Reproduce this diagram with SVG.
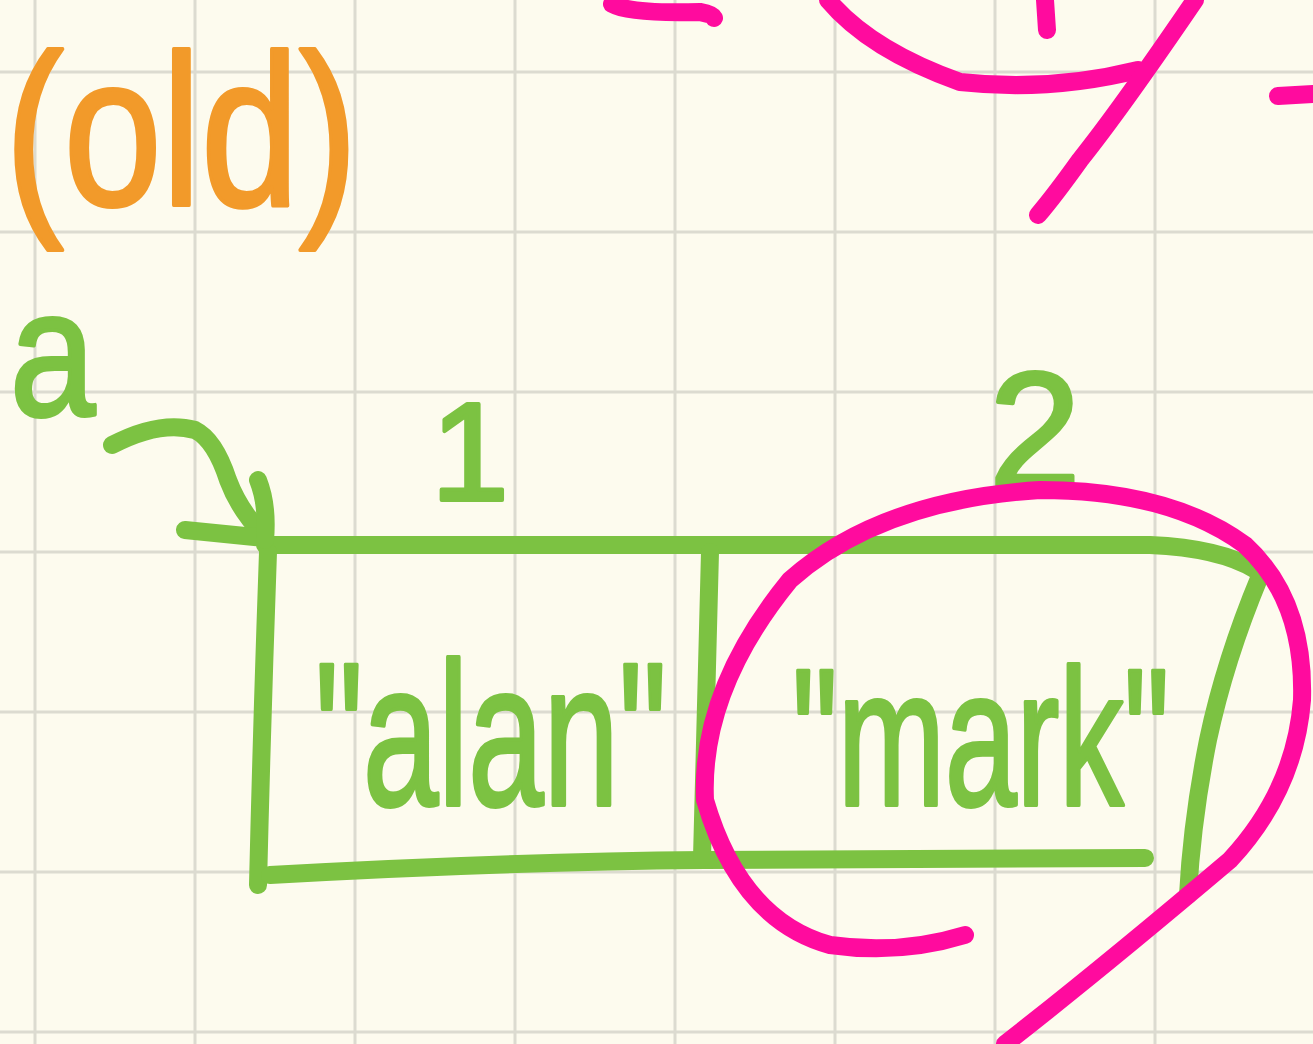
<svg xmlns="http://www.w3.org/2000/svg" width="1313" height="1044" viewBox="0 0 1313 1044">
<style>
.grid line{stroke:#dcdbd0;stroke-width:3}
.ink{fill:none;stroke-width:18;stroke-linecap:round;stroke-linejoin:round}
.g{stroke:#7cc242}
.m{stroke:#ff0b9e}
.t{font-family:"Liberation Sans",Arial,sans-serif;stroke-width:4;stroke-linejoin:round}
.tg{fill:#7cc242;stroke:#7cc242}
.to{fill:#f29a2a;stroke:#f29a2a}
</style>
<rect width="1313" height="1044" fill="#fdfbee"/>
<g class="grid">
<line x1="35" y1="0" x2="35" y2="1044"/><line x1="195" y1="0" x2="195" y2="1044"/><line x1="355" y1="0" x2="355" y2="1044"/><line x1="515" y1="0" x2="515" y2="1044"/><line x1="675" y1="0" x2="675" y2="1044"/><line x1="835" y1="0" x2="835" y2="1044"/><line x1="995" y1="0" x2="995" y2="1044"/><line x1="1155" y1="0" x2="1155" y2="1044"/>
<line x1="0" y1="72" x2="1313" y2="72"/><line x1="0" y1="232" x2="1313" y2="232"/><line x1="0" y1="392" x2="1313" y2="392"/><line x1="0" y1="552" x2="1313" y2="552"/><line x1="0" y1="712" x2="1313" y2="712"/><line x1="0" y1="872" x2="1313" y2="872"/><line x1="0" y1="1032" x2="1313" y2="1032"/>
</g>
<g id="top-fragments">
<path class="ink m" d="M612 4 Q630 14 700 12 Q712 14 714 18"/>
<path class="ink m" d="M828 0 Q870 50 960 82 Q1050 92 1138 70"/>
<path class="ink m" d="M1045 0 L1047 30"/>
<path class="ink m" d="M1195 0 Q1120 110 1080 160 Q1055 195 1038 215"/>
<path class="ink m" d="M1278 96 L1313 94"/>
</g>
<g id="label-old">
<text class="t to" transform="translate(5,205) scale(0.82,1)" x="0" y="0" font-size="215">(old)</text>
</g>
<g id="label-a">
<text class="t tg" transform="translate(10,415) scale(0.85,1)" x="0" y="0" font-size="180">a</text>
</g>
<g id="index-1">
<text class="t tg" x="470" y="500" font-size="140" text-anchor="middle">1</text>
</g>
<g id="index-2">
<text class="t tg" x="1035" y="488" font-size="165" text-anchor="middle">2</text>
</g>
<g id="array-box">
<path class="ink g" d="M265 545 L705 545 L1150 545 Q1220 548 1256 570"/>
<path class="ink g" d="M1260 576 Q1225 660 1208 740 Q1192 820 1188 895"/>
<path class="ink g" d="M268 552 Q262 720 258 885"/>
<path class="ink g" d="M270 875 Q500 862 705 860 L1145 858"/>
<path class="ink g" d="M710 552 L702 858"/>
</g>
<g id="cell-alan">
<text class="t tg" transform="translate(315,805) scale(0.66,1)" x="0" y="0" font-size="205">"alan"</text>
</g>
<g id="cell-mark">
<text class="t tg" transform="translate(792,805) scale(0.66,1)" x="0" y="0" font-size="195">"mark"</text>
</g>
<g id="strike-mark">
<path class="ink m" d="M965 935 Q900 955 830 945 Q740 920 705 800 Q700 690 790 580 Q880 500 1040 490 Q1170 490 1245 545 Q1305 600 1302 700 Q1295 790 1230 860 Q1100 970 1005 1044"/>
</g>
<g id="connectors">
<path class="ink g" d="M112 445 Q160 420 195 430 Q215 440 228 480 Q240 512 265 536"/>
<path class="ink g" d="M185 530 L265 538"/>
<path class="ink g" d="M258 480 Q268 505 265 540"/>
</g>
</svg>
